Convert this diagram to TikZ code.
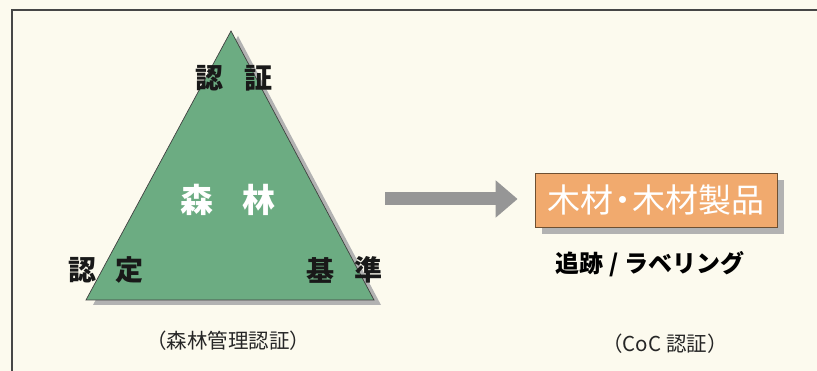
\documentclass[tikz,border=0pt]{standalone}
\usepackage{fontspec}
\usetikzlibrary{arrows.meta}
\newfontfamily\jp{Noto Sans CJK JP}
\definecolor{bgcream}{RGB}{252,250,238}
\definecolor{framegray}{RGB}{70,70,70}
\definecolor{forestgreen}{RGB}{108,172,130}
\definecolor{shadowgray}{RGB}{178,178,178}
\definecolor{arrowgray}{RGB}{150,150,150}
\definecolor{woodorange}{RGB}{241,170,110}
\definecolor{boxedge}{RGB}{110,80,50}
\tikzset{
  blacklabel/.style={font=\jp\bfseries\fontsize{28}{28}\selectfont, text=black!90, inner sep=0pt},
  whitelabel/.style={font=\jp\bfseries\fontsize{33}{33}\selectfont, text=white, inner sep=0pt},
  caption/.style={font=\jp\fontsize{20.5}{20.5}\selectfont, text=black!85, inner sep=0pt},
  subcaption/.style={font=\jp\bfseries\fontsize{24}{24}\selectfont, text=black, inner sep=0pt},
  prodbox/.style={fill=woodorange, draw=boxedge, line width=0.8pt, minimum width=242pt, minimum height=54pt, inner sep=0pt, font=\jp\fontsize{33}{33}\selectfont, text=white}
}
\begin{document}
\begin{tikzpicture}[x=1pt,y=-1pt]
\useasboundingbox (0,0) rectangle (817,371);
\fill[bgcream] (0,0) rectangle (817,371);
% frame (top and left edges visible)
\draw[framegray, line width=1.6pt] (12,380) -- (12,10) -- (830,10);
% triangle shadow and triangle
\coordinate (apex) at (231,31);
\coordinate (bl) at (86,300);
\coordinate (br) at (374,300);
\fill[shadowgray] ([shift={(7,5)}]apex) -- ([shift={(7,5)}]br) -- ([shift={(7,5)}]bl) -- cycle;
\draw[fill=forestgreen, draw=black!75, line width=0.7pt] (apex) -- (br) -- (bl) -- cycle;
% triangle labels
\node[blacklabel] (t1) at (209,78) {認};
\node[blacklabel] (t2) at (258,78) {証};
\node[whitelabel] (c1) at (197,200) {森};
\node[whitelabel] (c2) at (259,200) {林};
\node[blacklabel] (l1) at (82,270) {認};
\node[blacklabel] (l2) at (129,270) {定};
\node[blacklabel] (r1) at (320,270) {基};
\node[blacklabel] (r2) at (368,270) {準};
\node[caption] (cap1) at (228,341) {（森林管理認証）};
% product box with shadow
\fill[shadowgray] (542,180) rectangle (784,234);
\node[prodbox] (prod) at (656,200) {木材\hspace{-7pt}・\hspace{-7pt}木材製品};
\node[subcaption] (track) at (650,264) {追跡 / ラベリング};
\node[caption] (cap2) at (665,344) {（CoC 認証）};
% arrow
\coordinate (arrS) at (385,199);
\draw[arrowgray, line width=13pt, -{Triangle[length=22pt,width=36pt]}, shorten >=17pt] (arrS) -- (arrS -| prod.west);
\end{tikzpicture}
\end{document}
